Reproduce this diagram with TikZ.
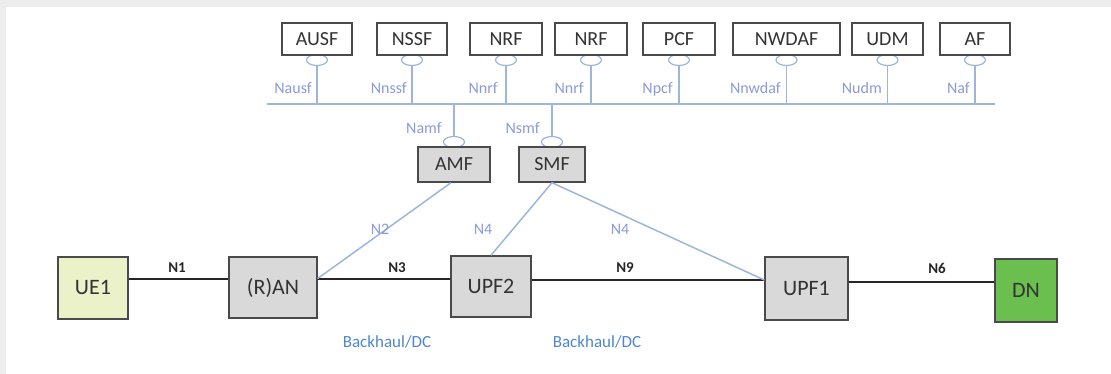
\documentclass[tikz,border=0pt]{standalone}
\usepackage{fontspec}
\setmainfont{Carlito}
\usetikzlibrary{shapes.geometric}
\definecolor{boxline}{HTML}{4A4A4A}
\definecolor{boxgray}{HTML}{D9D9D9}
\definecolor{uefill}{HTML}{EBF1C8}
\definecolor{dnfill}{HTML}{6BBF4E}
\definecolor{busblue}{HTML}{9DB5DB}
\definecolor{ifblue}{HTML}{8A9BD6}
\definecolor{bhblue}{HTML}{4F86CB}
\definecolor{txtgray}{HTML}{333333}
\definecolor{framegray}{HTML}{EDEDED}
\tikzset{
  nfbox/.style={draw=boxline, line width=1.4pt, fill=white, text=txtgray, font=\fontsize{20}{22}\selectfont, minimum height=32pt, inner sep=0pt},
  cpbox/.style={draw=boxline, line width=1.4pt, fill=boxgray, text=txtgray, font=\fontsize{20}{22}\selectfont, minimum height=35pt, inner sep=0pt},
  upbox/.style={draw=boxline, line width=1.4pt, fill=boxgray, text=txtgray, font=\fontsize{22}{24}\selectfont, inner sep=0pt},
  svc/.style={ellipse, draw=busblue, line width=1.2pt, fill=white, minimum width=21pt, minimum height=11pt, inner sep=0pt},
  bus/.style={draw=busblue, line width=1.5pt},
  ifl/.style={text=ifblue, font=\fontsize{16}{18}\selectfont, inner sep=0pt},
  upl/.style={draw=black!85, line width=2pt},
  nlab/.style={text=black!85, font=\bfseries\fontsize{15}{17}\selectfont, inner sep=0pt},
  bhl/.style={text=bhblue, font=\fontsize{17}{19}\selectfont, inner sep=0pt}
}
\begin{document}
\begin{tikzpicture}[x=1pt,y=-1pt]
\useasboundingbox (0,0) rectangle (1111,374);
\fill[framegray] (0,0) rectangle (1111,7);
\fill[framegray] (0,0) rectangle (6,374);
% service ellipses of the top NFs (drawn first, boxes cover their top)
\foreach \n/\x in {ausf/317,nssf/412,nrfa/506,nrfb/591,pcf/679,nwdaf/786.5,udm/887.5,af/975}{
  \node[svc] (e\n) at (\x,60) {};
  \coordinate (b\n) at (\x,104);
  \draw[bus] (e\n.south) -- (b\n);
}
% top NF boxes
\node[nfbox, minimum width=70pt] (ausf) at (317,39) {AUSF};
\node[nfbox, minimum width=70pt] (nssf) at (412,39) {NSSF};
\node[nfbox, minimum width=72pt] (nrfa) at (506,39) {NRF};
\node[nfbox, minimum width=72pt] (nrfb) at (591,39) {NRF};
\node[nfbox, minimum width=72pt] (pcf) at (679,39) {PCF};
\node[nfbox, minimum width=107pt] (nwdaf) at (786.5,39) {NWDAF};
\node[nfbox, minimum width=71pt] (udm) at (887.5,39) {UDM};
\node[nfbox, minimum width=70pt] (af) at (975,39) {AF};
% bus
\coordinate (busL) at (267,104);
\coordinate (busR) at (995,104);
\draw[bus] (busL) -- (busR);
% interface labels
\node[ifl, anchor=base east] (lausf) at (312,94) {Nausf};
\node[ifl, anchor=base east] (lnssf) at (407,94) {Nnssf};
\node[ifl, anchor=base east] (lnrfa) at (498,94) {Nnrf};
\node[ifl, anchor=base east] (lnrfb) at (584,94) {Nnrf};
\node[ifl, anchor=base east] (lpcf) at (673,94) {Npcf};
\node[ifl, anchor=base east] (lnwdaf) at (781,94) {Nnwdaf};
\node[ifl, anchor=base east] (ludm) at (882,94) {Nudm};
\node[ifl, anchor=base east] (laf) at (970,94) {Naf};
% AMF / SMF
\node[svc] (eamf) at (454,142) {};
\node[svc] (esmf) at (552,142) {};
\node[cpbox, minimum width=72pt] (amf) at (454,164.5) {AMF};
\node[cpbox, minimum width=66pt] (smf) at (552,164.5) {SMF};
\coordinate (bamf) at (454,104);
\coordinate (bsmf) at (552,104);
\draw[bus] (bamf) -- (eamf.north);
\draw[bus] (bsmf) -- (esmf.north);
\node[ifl, anchor=base east] (lamf) at (442,134) {Namf};
\node[ifl, anchor=base east] (lsmf) at (540,134) {Nsmf};
% user plane boxes
\node[upbox, fill=uefill, minimum width=70pt, minimum height=62pt] (ue) at (93,288) {UE1};
\node[upbox, minimum width=88pt, minimum height=61pt] (ran) at (273,287.5) {(R)AN};
\node[upbox, minimum width=80pt, minimum height=61pt] (upf2) at (491,286.5) {UPF2};
\node[upbox, minimum width=83pt, minimum height=63pt] (upf1) at (806.5,288.5) {UPF1};
\node[upbox, fill=dnfill, text=black!80, minimum width=62pt, minimum height=63pt] (dn) at (1026,290.5) {DN};
% user plane links
\draw[upl] ([yshift=9pt]ue.east) -- ([yshift=8.5pt]ran.west);
\draw[upl] ([yshift=8.5pt]ran.east) -- ([yshift=7.5pt]upf2.west);
\draw[upl] ([yshift=6.5pt]upf2.east) -- ([yshift=8.5pt]upf1.west);
\draw[upl] ([yshift=6.5pt]upf1.east) -- ([yshift=8.5pt]dn.west);
\node[nlab] (n1) at (177,268) {N1};
\node[nlab] (n3) at (397,268) {N3};
\node[nlab] (n9) at (625,268) {N9};
\node[nlab] (n6) at (937,268) {N6};
% control links
\draw[bus] ([xshift=-3pt]amf.south) -- ([yshift=9pt]ran.east);
\draw[bus] (smf.south) -- (upf2.north);
\draw[bus] (smf.south) -- ([yshift=8.5pt]upf1.west);
\node[ifl] (ln2) at (380,229) {N2};
\node[ifl] (ln4a) at (483,229) {N4};
\node[ifl] (ln4b) at (620,229) {N4};
% backhaul labels
\node[bhl] (bh1) at (387,342) {Backhaul/DC};
\node[bhl] (bh2) at (597,342) {Backhaul/DC};
\end{tikzpicture}
\end{document}
